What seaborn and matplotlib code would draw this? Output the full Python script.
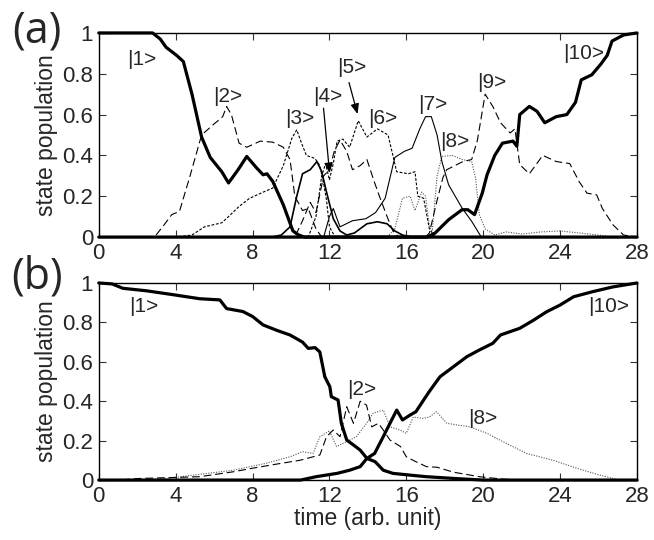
import matplotlib
matplotlib.use("Agg")
import matplotlib.pyplot as plt
import seaborn as sns
import numpy as np

sns.set_style("ticks", {"xtick.direction": "in", "ytick.direction": "in"})
plt.rcParams['font.family'] = ['Liberation Sans', 'DejaVu Sans']

# ---- data: panel (a) ----
a1_t = [0, 1, 2, 2.8, 3.2, 3.5, 4.05, 4.4, 4.85, 5.35, 5.8, 6.4, 6.75, 7.25, 7.7, 8.2, 8.55, 8.75, 9.05, 9.6, 10.1, 10.4, 10.7, 28]
a1_v = [1.0, 1.0, 1.0, 1.0, 0.97, 0.93, 0.89, 0.86, 0.70, 0.49, 0.39, 0.32, 0.265, 0.33, 0.395, 0.34, 0.305, 0.31, 0.273, 0.158, 0.03, 0.01, 0.0, 0.0]

a2_t = [0, 2.9, 3.4, 3.8, 4.2, 4.75, 5.35, 5.95, 6.45, 6.65, 6.9, 7.3, 7.7, 8.4, 9.05, 9.6, 9.95, 10.2, 10.6, 10.9, 11.3, 11.6, 28]
a2_v = [0, 0, 0.06, 0.11, 0.126, 0.30, 0.50, 0.55, 0.59, 0.64, 0.60, 0.46, 0.44, 0.47, 0.465, 0.44, 0.38, 0.2, 0.13, 0.14, 0.04, 0, 0]

a3_t = [0, 4.0, 4.85, 5.5, 6.4, 6.75, 7.3, 7.85, 8.55, 9.05, 9.6, 10.05, 10.3, 10.55, 10.8, 11.25, 11.5, 11.7, 11.85, 12.0, 12.3, 28]
a3_v = [0, 0, 0.01, 0.05, 0.07, 0.10, 0.15, 0.19, 0.22, 0.24, 0.35, 0.485, 0.525, 0.46, 0.40, 0.385, 0.35, 0.26, 0.18, 0.05, 0.0, 0]

a4_t = [0, 9.0, 9.5, 9.95, 10.3, 10.6, 11.0, 11.35, 11.6, 11.85, 12.2, 12.55, 12.9, 13.3, 13.95, 14.5, 15.0, 15.4, 15.8, 16.3, 28]
a4_v = [0, 0, 0.01, 0.05, 0.2, 0.31, 0.33, 0.37, 0.32, 0.22, 0.09, 0.03, 0.01, 0.02, 0.065, 0.075, 0.065, 0.03, 0.01, 0.0, 0]

a5_t = [0, 10.2, 10.6, 11.0, 11.3, 11.7, 12.0, 12.25, 12.55, 12.9, 13.2, 13.6, 13.95, 14.3, 14.6, 15.0, 15.3, 15.6, 28]
a5_v = [0, 0, 0.08, 0.17, 0.12, 0.30, 0.33, 0.42, 0.475, 0.42, 0.33, 0.35, 0.38, 0.28, 0.20, 0.10, 0.03, 0, 0]

a6_t = [0, 10.9, 11.3, 11.6, 11.8, 12.0, 12.2, 12.4, 12.7, 13.05, 13.5, 13.95, 14.5, 15.05, 15.5, 16.1, 16.45, 16.6, 16.9, 17.2, 17.5, 28]
a6_v = [0, 0, 0.1, 0.3, 0.36, 0.28, 0.36, 0.47, 0.48, 0.44, 0.57, 0.49, 0.53, 0.50, 0.32, 0.31, 0.32, 0.2, 0.19, 0.04, 0, 0]

a7_t = [0, 11.7, 12.0, 12.2, 12.55, 13.2, 13.9, 14.4, 14.9, 15.4, 15.9, 16.3, 16.7, 17.0, 17.3, 17.6, 17.85, 18.2, 18.9, 19.4, 19.9, 28]
a7_v = [0, 0, 0.1, 0.14, 0.05, 0.08, 0.09, 0.12, 0.19, 0.39, 0.42, 0.435, 0.53, 0.59, 0.59, 0.50, 0.37, 0.256, 0.142, 0.077, 0.0, 0]

a8_t = [0, 15.0, 15.4, 15.8, 16.2, 16.45, 16.8, 17.0, 17.2, 17.35, 17.6, 17.85, 18.4, 18.9, 19.4, 19.6, 19.8, 20.1, 20.6, 21.2, 22, 23, 24, 25, 26, 26.8, 28]
a8_v = [0, 0, 0.04, 0.19, 0.2, 0.13, 0.22, 0.2, 0.05, 0.03, 0.3, 0.395, 0.40, 0.38, 0.37, 0.29, 0.11, 0.04, 0.01, 0.025, 0.015, 0.025, 0.03, 0.02, 0.01, 0, 0]

a9_t = [0, 17.0, 17.2, 17.6, 17.9, 18.1, 18.95, 19.4, 19.7, 20.1, 20.5, 20.9, 21.4, 21.65, 21.9, 22.4, 23.1, 23.8, 24.5, 25.0, 25.4, 25.9, 26.2, 26.75, 27.3, 28]
a9_v = [0, 0, 0.02, 0.18, 0.29, 0.33, 0.37, 0.38, 0.475, 0.70, 0.64, 0.56, 0.51, 0.53, 0.355, 0.31, 0.40, 0.37, 0.36, 0.27, 0.215, 0.207, 0.14, 0.06, 0.01, 0]

a10_t = [0, 17.1, 17.5, 18.2, 18.9, 19.2, 19.55, 19.95, 20.2, 20.6, 21.0, 21.55, 21.75, 21.9, 22.4, 22.8, 23.2, 23.8, 24.35, 24.8, 25.1, 25.65, 26.1, 26.45, 26.7, 27.3, 28]
a10_v = [0, 0, 0.02, 0.085, 0.134, 0.134, 0.11, 0.215, 0.305, 0.40, 0.46, 0.47, 0.445, 0.60, 0.64, 0.616, 0.56, 0.59, 0.60, 0.66, 0.77, 0.795, 0.845, 0.89, 0.96, 0.99, 1.0]

# ---- data: panel (b) ----
b1_t = [0, 0.7, 1.25, 2.5, 3.9, 5.25, 6.3, 6.65, 7.5, 8.0, 8.55, 9.25, 9.95, 10.6, 10.9, 11.25, 11.5, 11.76, 12.02, 12.1, 12.45, 12.62, 12.9, 13.25, 13.6, 13.95, 14.38, 14.8, 15.3, 16.2, 17.05, 18.5, 20, 28]
b1_v = [1.0, 0.995, 0.973, 0.96, 0.94, 0.92, 0.914, 0.87, 0.855, 0.83, 0.787, 0.76, 0.736, 0.70, 0.668, 0.672, 0.65, 0.524, 0.474, 0.423, 0.406, 0.288, 0.203, 0.178, 0.152, 0.11, 0.093, 0.05, 0.034, 0.025, 0.017, 0.008, 0.0, 0.0]

b10_t = [0, 10.5, 11.3, 12.4, 13.05, 13.6, 13.95, 14.35, 14.8, 15.15, 15.5, 15.8, 16.2, 16.5, 16.9, 17.2, 17.75, 18.45, 19.15, 19.8, 20.5, 20.9, 21.9, 22.6, 23.3, 24.0, 24.7, 25.7, 26.75, 28]
b10_v = [0, 0.0, 0.017, 0.034, 0.05, 0.068, 0.11, 0.135, 0.22, 0.288, 0.355, 0.305, 0.33, 0.347, 0.406, 0.45, 0.524, 0.575, 0.626, 0.66, 0.694, 0.736, 0.77, 0.81, 0.854, 0.888, 0.93, 0.956, 0.98, 1.0]

b2_t = [0, 1.0, 2.1, 5.25, 7.0, 8.0, 9.25, 10.45, 11.15, 11.5, 11.85, 12.2, 12.55, 12.9, 13.25, 13.6, 13.93, 14.2, 14.55, 14.8, 15.15, 15.7, 16.0, 16.5, 17.05, 17.6, 18.45, 19.8, 21, 22, 28]
b2_v = [0, 0, 0.008, 0.017, 0.042, 0.06, 0.081, 0.10, 0.118, 0.127, 0.22, 0.254, 0.22, 0.372, 0.288, 0.40, 0.38, 0.27, 0.288, 0.254, 0.203, 0.17, 0.118, 0.093, 0.068, 0.065, 0.04, 0.017, 0.005, 0, 0]

b8_t = [0, 2.0, 3.5, 7.0, 8.7, 9.95, 10.6, 11.15, 11.5, 12.0, 12.37, 12.9, 13.4, 13.93, 14.28, 14.8, 15.15, 15.66, 16.0, 16.36, 16.88, 17.2, 17.57, 18.1, 19.3, 20.2, 21.2, 22.26, 23.65, 24.86, 26.07, 27.1, 28]
b8_v = [0, 0, 0.008, 0.05, 0.085, 0.118, 0.144, 0.135, 0.22, 0.25, 0.17, 0.195, 0.22, 0.288, 0.34, 0.355, 0.27, 0.254, 0.237, 0.32, 0.313, 0.32, 0.347, 0.288, 0.27, 0.237, 0.186, 0.135, 0.10, 0.06, 0.025, 0.0, 0.0]

x_ticks = [0, 4, 8, 12, 16, 20, 24, 28]
y_ticks = [0, 0.2, 0.4, 0.6, 0.8, 1]
y_ticklabels = ["0", "0.2", "0.4", "0.6", "0.8", "1"]

a_labels = ["|1>", "|2>", "|3>", "|4>", "|5>", "|6>", "|7>", "|8>", "|9>", "|10>"]
a_label_t = [1.45, 5.93, 9.68, 11.14, 12.39, 14.0, 16.6, 17.75, 19.67, 24.15]
a_label_v = [0.87, 0.69, 0.58, 0.69, 0.83, 0.58, 0.65, 0.47, 0.755, 0.90]
b_labels = ["|1>", "|2>", "|8>", "|10>"]
b_label_t = [1.6, 12.9, 19.2, 25.45]
b_label_v = [0.88, 0.46, 0.31, 0.88]

# ---- styles ----
thick = dict(color="black", linewidth=2.3, linestyle="-")
thin = dict(color="black", linewidth=0.8, linestyle="-")
medium = dict(color="black", linewidth=1.2, linestyle="-")
longdash = dict(color="black", linewidth=0.8, linestyle=(0, (7, 3.5)))
shortdash = dict(color="black", linewidth=0.8, linestyle=(0, (2.5, 1.5)))
dotted = dict(color="#555555", linewidth=0.8, linestyle=(0, (1, 1.3)))

fig = plt.figure(figsize=(6.54, 5.40), dpi=100)
ax_a = fig.add_axes([0.151, 0.561, 0.823, 0.378])
ax_b = fig.add_axes([0.151, 0.111, 0.823, 0.365])


def draw(ax, t, v, style):
    sns.lineplot(x=t, y=v, ax=ax, estimator=None, sort=False, clip_on=False, **style)


draw(ax_a, a8_t, a8_v, dotted)
draw(ax_a, a3_t, a3_v, shortdash)
draw(ax_a, a6_t, a6_v, shortdash)
draw(ax_a, a2_t, a2_v, longdash)
draw(ax_a, a5_t, a5_v, longdash)
draw(ax_a, a9_t, a9_v, longdash)
draw(ax_a, a7_t, a7_v, thin)
draw(ax_a, a4_t, a4_v, medium)
draw(ax_a, a1_t, a1_v, thick)
draw(ax_a, a10_t, a10_v, thick)

draw(ax_b, b8_t, b8_v, dotted)
draw(ax_b, b2_t, b2_v, longdash)
draw(ax_b, b1_t, b1_v, thick)
draw(ax_b, b10_t, b10_v, thick)

for lab, t, v in zip(a_labels, a_label_t, a_label_v):
    ax_a.text(t, v, lab, fontsize=15, ha="left", va="center")
for lab, t, v in zip(b_labels, b_label_t, b_label_v):
    ax_b.text(t, v, lab, fontsize=15, ha="left", va="center")

arrow = dict(arrowstyle="-|>,head_length=0.6,head_width=0.25", color="black", lw=0.9)
ax_a.annotate("", xy=(12.02, 0.30), xytext=(11.68, 0.645), arrowprops=arrow)
ax_a.annotate("", xy=(13.5, 0.59), xytext=(12.98, 0.77), arrowprops=arrow)

for ax in (ax_a, ax_b):
    ax.set_xlim(0, 28)
    ax.set_ylim(0, 1)
    ax.set_xticks(x_ticks)
    ax.set_xticklabels([str(x) for x in x_ticks])
    ax.set_yticks(y_ticks)
    ax.set_yticklabels(y_ticklabels)
    ax.tick_params(direction="in", top=True, right=True, length=5, width=0.8,
                   labelsize=16, pad=4, color="#333333")
    for s in ax.spines.values():
        s.set_linewidth(1.0)
        s.set_color("black")
    ax.set_ylabel("state population", fontsize=16.5, labelpad=3)

ax_a.set_xlabel("")
ax_b.set_xlabel("time (arb. unit)", fontsize=16.5, labelpad=0)

fig.text(0.057, 0.943, "(a)", fontsize=31, ha="center", va="center", family=["Open Sans", "DejaVu Sans"])
fig.text(0.057, 0.487, "(b)", fontsize=31, ha="center", va="center", family=["Open Sans", "DejaVu Sans"])

fig.savefig("out.png", dpi=100)
